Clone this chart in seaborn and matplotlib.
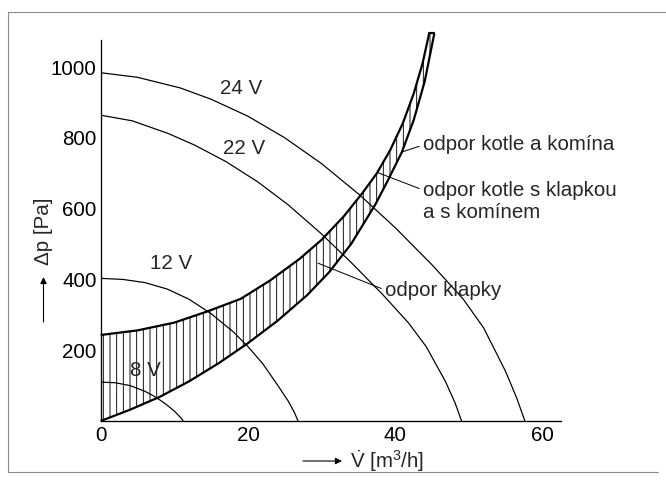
import matplotlib
matplotlib.use("Agg")
import matplotlib.pyplot as plt
from matplotlib.lines import Line2D
from matplotlib.patches import FancyArrowPatch
import seaborn as sns
import numpy as np
import pandas as pd

# ---------------- data ----------------
x_24v = [0, 5, 10.8, 15, 20, 25, 30, 35.2, 40, 45, 49.2, 52, 55, 56.5, 57.6]
y_24v = [984, 971, 941, 909, 861, 800, 727, 638, 546, 441, 345, 263, 139, 64, 0]

x_22v = [0, 4.3, 9.2, 12.7, 17.0, 21.3, 25.5, 29.9, 34.0, 38.3, 41.8, 44.2, 46.8, 48.1, 49]
y_22v = [864, 848, 812, 780, 733, 676, 610, 530, 448, 357, 277, 210, 112, 52, 0]

x_12v = [0, 3, 6, 9, 12, 15, 18, 20, 22, 24, 25.5, 26.3, 26.8]
y_12v = [403, 400, 391, 373, 344, 303, 252, 210, 162, 102, 55, 24, 0]

x_8v = [0, 2, 4, 6, 7, 8, 9, 10, 10.6, 11.0, 11.2]
y_8v = [110, 108, 100, 84, 73, 60, 45, 28, 15, 6, 0]

# odpor kotle a komína (lower / right edge of the band)
x_kotel = [0, 4, 8, 12, 16, 20, 24, 28, 31, 34, 37.3, 39, 40.9, 42.5, 44, 45.3]
y_kotel = [0, 32, 68, 112, 163, 220, 283, 355, 420, 500, 612, 680, 760, 850, 960, 1095]

# odpor kotle s klapkou a s komínem (upper / left edge of the band)
x_klapka = [0, 5, 10, 14.4, 19, 23, 27, 30, 33, 35.5, 37.5, 39.3, 41, 42.5, 43.7, 44.6]
y_klapka = [243, 256, 278, 309, 345, 397, 458, 512, 578, 643, 700, 765, 840, 925, 1010, 1095]

x_ticks = [0, 10, 20, 30, 40, 50, 60]
x_ticklabels = ["0", "", "20", "", "40", "", "60"]
y_ticks = [200, 400, 600, 800, 1000]
y_ticklabels = ["200", "400", "600", "800", "1000"]

fan_labels = ["24 V", "22 V", "12 V", "8 V"]
fan_label_pos = [(19.0, 940), (19.5, 770), (9.5, 445), (6.0, 144)]

# ---------------- style ----------------
sns.set_style("white")
FONT = ["Liberation Sans", "DejaVu Sans"]
plt.rcParams["font.family"] = FONT
plt.rcParams["mathtext.fontset"] = "custom"
plt.rcParams["mathtext.rm"] = "Liberation Sans"
plt.rcParams["mathtext.it"] = "Liberation Sans:italic"
plt.rcParams["hatch.linewidth"] = 0.8
FS = 18.5

W, H, DPI = 666, 489, 80
fig = plt.figure(figsize=(W / DPI, H / DPI), dpi=DPI)
fig.patch.set_facecolor("white")


def px(x, y):
    return (x / W, 1 - y / H)


L, R, T, B = 100.7, 561.0, 40.5, 421.0
ax = fig.add_axes([L / W, 1 - B / H, (R - L) / W, (B - T) / H])
ax.set_facecolor("white")

# frame around the figure
for (x0, y0), (x1, y1) in [((8, 12), (666, 12)), ((8, 12), (8, 472)), ((8, 472), (658, 472))]:
    a, b = px(x0, y0), px(x1, y1)
    fig.add_artist(Line2D([a[0], b[0]], [a[1], b[1]], transform=fig.transFigure,
                          color="0.55", lw=1.0))

# hatched band (odpor klapky)
band_x = np.concatenate([x_klapka, x_kotel[::-1]])
band_y = np.concatenate([y_klapka, y_kotel[::-1]])
ax.fill(band_x, band_y, facecolor="none", edgecolor="black", hatch="||",
        linewidth=0, clip_on=False)

for xs, ys in [(x_24v, y_24v), (x_22v, y_22v), (x_12v, y_12v), (x_8v, y_8v)]:
    df = pd.DataFrame({"x": xs, "y": ys})
    sns.lineplot(data=df, x="x", y="y", ax=ax, sort=False, estimator=None,
                 color="black", lw=1.1)

for xs, ys in [(x_kotel, y_kotel), (x_klapka, y_klapka)]:
    df = pd.DataFrame({"x": xs, "y": ys})
    sns.lineplot(data=df, x="x", y="y", ax=ax, sort=False, estimator=None,
                 color="black", lw=2.0, solid_capstyle="butt", clip_on=False)
# closing cap at the top of the band
ax.plot([x_klapka[-1], x_kotel[-1]], [y_klapka[-1], y_kotel[-1]], color="black",
        lw=2.0, clip_on=False)

ax.set_xlim(0, 62.5)
ax.set_ylim(0, 1075)
ax.set_xlabel("")
ax.set_ylabel("")
ax.set_xticks(x_ticks)
ax.set_xticklabels(x_ticklabels)
ax.set_yticks(y_ticks)
ax.set_yticklabels(y_ticklabels)
ax.tick_params(direction="in", length=8, width=1.0, labelsize=FS, colors="black")
ax.tick_params(axis="x", pad=4.5)
ax.tick_params(axis="y", pad=3.5)
for s in ["top", "right"]:
    ax.spines[s].set_visible(False)
for s in ["left", "bottom"]:
    ax.spines[s].set_color("black")
    ax.spines[s].set_linewidth(1.2)

# fan curve labels
for lab, (lx, ly) in zip(fan_labels, fan_label_pos):
    ax.text(lx, ly, lab, fontsize=FS, ha="center", va="center")

# annotations with leader lines
lead = dict(arrowstyle="-", lw=0.9, color="black", shrinkA=1, shrinkB=0, relpos=(0, 0.5))
ax.annotate("odpor kotle a komína", xy=(40.9, 760), xycoords="data",
            xytext=px(423, 145), textcoords="figure fraction",
            fontsize=FS, ha="left", va="center", arrowprops=lead)
ax.annotate("odpor kotle s klapkou", xy=(37.6, 702), xycoords="data",
            xytext=px(423, 190), textcoords="figure fraction",
            fontsize=FS, ha="left", va="center", arrowprops=lead)
fig.text(*px(423, 212), "a s komínem", fontsize=FS, ha="left", va="center")
ax.annotate("odpor klapky", xy=(29.5, 446), xycoords="data",
            xytext=px(385, 290), textcoords="figure fraction",
            fontsize=FS, ha="left", va="center", arrowprops=lead)

# axis labels with arrows
arr = dict(arrowstyle="-|>", lw=1.0, color="black", mutation_scale=12, shrinkA=0, shrinkB=0)
fig.text(*px(43.5, 231), "Δp [Pa]", fontsize=FS, rotation=90, ha="center", va="center")
fig.add_artist(FancyArrowPatch(px(43.5, 322), px(43.5, 277),
                               transform=fig.transFigure, **arr))
fig.text(*px(350, 461), r"$\dot{\mathrm{V}}$ [m$^3$/h]", fontsize=FS, ha="left", va="center")
fig.add_artist(FancyArrowPatch(px(303, 461), px(342, 461),
                               transform=fig.transFigure, **arr))

fig.savefig("out.png", dpi=DPI, facecolor="white")
